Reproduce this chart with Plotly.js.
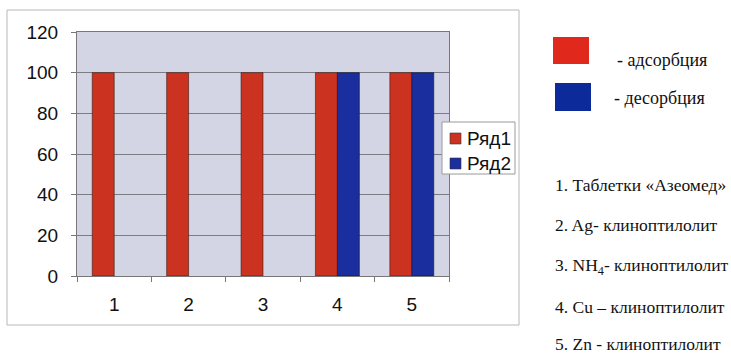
<!DOCTYPE html>
<html>
<head>
<meta charset="utf-8">
<script src="https://cdn.plot.ly/plotly-3.0.1.min.js"></script>
<style>html,body{margin:0;padding:0;background:#fff;}#chart{width:731px;height:354px;}</style>
</head>
<body>
<div id="chart"></div>
<script>
const categories = ["1", "2", "3", "4", "5"];
const series1Name = "Ряд1";
const series2Name = "Ряд2";
const series1Values = [100, 100, 100, 100, 100];
const series2Values = [null, null, null, 100, 100];
const yTicks = [0, 20, 40, 60, 80, 100, 120];
const sideLegendLabels = ["- адсорбция", "- десорбция"];
const sideListLabels = [
  "1. Таблетки «Азеомед»",
  "2. Ag- клиноптилолит",
  "3. NH<sub>4</sub>- клиноптилолит",
  "4. Cu – клиноптилолит",
  "5. Zn - клиноптилолит"
];

const RED = "#cc3220";
const BLUE = "#1b2e9e";
const seriesColors = [RED, BLUE];
const seriesNames = [series1Name, series2Name];

const W = 731, H = 354;
const L = 77, R = 449, T = 32, B = 276;
const px = x => (x - L) / (R - L);
const py = y => (B - y) / (B - T);

const data = [
  {type: "bar", x: categories, y: series1Values, name: series1Name, showlegend: false,
   marker: {color: RED, line: {color: "#3a1a10", width: 0.6}}},
  {type: "bar", x: categories, y: series2Values, name: series2Name, showlegend: false,
   marker: {color: BLUE, line: {color: "#101030", width: 0.6}}}
];

const serif = "Liberation Serif, Times New Roman, serif";
const sans = "Liberation Sans, Arial, sans-serif";
const annotations = [];
const shapes = [
  {type: "rect", xref: "paper", yref: "paper",
   x0: px(7), x1: px(519), y0: py(325), y1: py(10),
   line: {color: "#b8b8b8", width: 1}, fillcolor: "rgba(0,0,0,0)", layer: "below"},
  {type: "rect", xref: "paper", yref: "paper",
   x0: px(553), x1: px(589), y0: py(64), y1: py(37),
   line: {width: 0}, fillcolor: "#e0281c"},
  {type: "rect", xref: "paper", yref: "paper",
   x0: px(555), x1: px(591), y0: py(111), y1: py(83),
   line: {width: 0}, fillcolor: "#0d2a9a"},
  // chart legend box
  {type: "rect", xref: "paper", yref: "paper",
   x0: px(442), x1: px(515), y0: py(174), y1: py(122),
   line: {color: "#9a9a9a", width: 1}, fillcolor: "#ffffff"}
];
const legY = [138.5, 163.5];
seriesNames.forEach((n, i) => {
  shapes.push({type: "rect", xref: "paper", yref: "paper",
    x0: px(450), x1: px(461), y0: py(legY[i] + 5.5), y1: py(legY[i] - 5.5),
    line: {color: "#333", width: 0.6}, fillcolor: seriesColors[i]});
  annotations.push({xref: "paper", yref: "paper", x: px(465), y: py(legY[i]),
    xanchor: "left", yanchor: "middle", text: n, showarrow: false,
    font: {family: sans, size: 19, color: "#111"}});
});

const sideLegendY = [60, 98];
const sideLegendX = [615, 612];
sideLegendLabels.forEach((t, i) => annotations.push({
  xref: "paper", yref: "paper", x: px(sideLegendX[i]), y: py(sideLegendY[i]),
  xanchor: "left", yanchor: "middle", text: t, showarrow: false,
  font: {family: serif, size: 18, color: "#111"}
}));
const listY = [185, 225, 266, 307, 344];
sideListLabels.forEach((t, i) => annotations.push({
  xref: "paper", yref: "paper", x: px(553), y: py(listY[i]),
  xanchor: "left", yanchor: "middle", text: t, showarrow: false,
  font: {family: serif, size: 17.5, color: "#111"}
}));

const layout = {
  width: W, height: H,
  margin: {l: L, r: W - R, t: T, b: H - B, pad: 0},
  paper_bgcolor: "#ffffff",
  plot_bgcolor: "#d3d5e5",
  barmode: "group",
  bargap: 0.41,
  bargroupgap: 0,
  showlegend: false,
  font: {family: sans, size: 19, color: "#111"},
  xaxis: {
    type: "category",
    tickson: "boundaries",
    ticks: "outside", ticklen: 5, tickcolor: "#777",
    showline: true, linecolor: "#777", linewidth: 1, mirror: true,
    showgrid: false,
    tickfont: {size: 19},
    ticklabelstandoff: 11
  },
  yaxis: {
    range: [0, 120],
    tickvals: yTicks,
    ticks: "outside", ticklen: 5, tickcolor: "#777",
    showline: true, linecolor: "#777", linewidth: 1, mirror: true,
    showgrid: true, gridcolor: "#7c7c84", gridwidth: 1,
    zeroline: false,
    tickfont: {size: 19},
    ticklabelstandoff: 9
  },
  shapes: shapes,
  annotations: annotations
};

Plotly.newPlot("chart", data, layout, {displayModeBar: false, staticPlot: true});
</script>
</body>
</html>
